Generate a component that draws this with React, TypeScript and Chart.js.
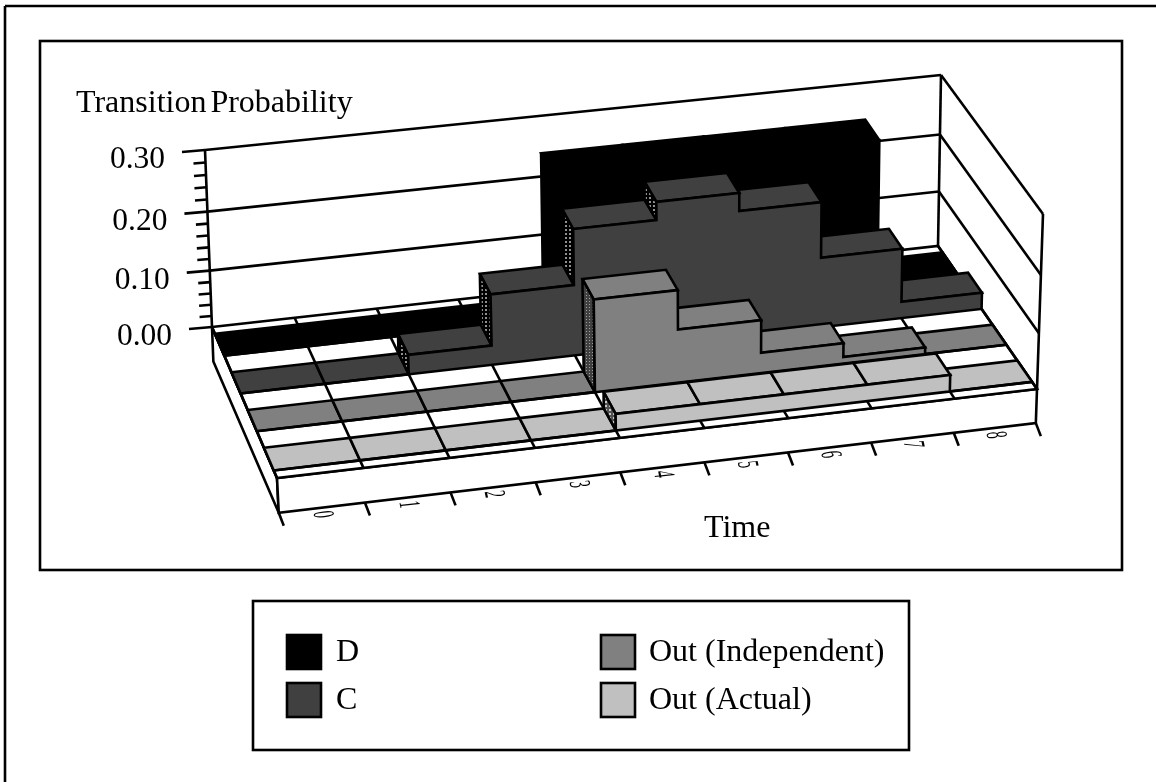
import React, { useEffect, useRef } from "react";
import { Chart, registerables } from "chart.js";

Chart.register(...registerables);

const categories = ["0", "1", "2", "3", "4", "5", "6", "7", "8"];
const seriesD = [0, 0, 0, 0, 0.25, 0.25, 0.25, 0.25, 0];
const seriesC = [0, 0, 0.035, 0.125, 0.22, 0.25, 0.22, 0.125, 0.03];
const outIndependent = [0, 0, 0, 0, 0.163, 0.095, 0.037, 0.012, 0];
const outActual = [0, 0, 0, 0, 0.03, 0.03, 0.03, 0.03, 0];
const seriesLabels = ["D", "C", "Out (Independent)", "Out (Actual)"];
const seriesColors = ["#000000", "#404040", "#808080", "#c0c0c0"];
const yTickLabels = ["0.00", "0.10", "0.20", "0.30"];
const yTickValues = [0, 0.1, 0.2, 0.3];
const yMinorValues = [0.02, 0.04, 0.06, 0.08, 0.12, 0.14, 0.16, 0.18, 0.22, 0.24, 0.26, 0.28];
const yAxisTitle = "Transition Probability";
const xAxisTitle = "Time";
const rowDepths = [
  [0.045, 0.19],
  [0.3, 0.44],
  [0.55, 0.69],
  [0.8, 0.95],
];
const slabThickness = -0.0585;

type P = [number, number];
const FONT = '"Liberation Serif", "Times New Roman", serif';

const floorC: P[] = [[212, 327], [938, 246], [1037, 389], [277, 478]]; // BL BR FR FL
const ceilC: P[] = [[205, 150], [941, 75], [1043, 214], [268, 300]];

function bilerp(c: P[], u: number, d: number): P {
  const bx = c[0][0] + (c[1][0] - c[0][0]) * u;
  const by = c[0][1] + (c[1][1] - c[0][1]) * u;
  const fx = c[3][0] + (c[2][0] - c[3][0]) * u;
  const fy = c[3][1] + (c[2][1] - c[3][1]) * u;
  return [bx + (fx - bx) * d, by + (fy - by) * d];
}

function makePattern(ctx: CanvasRenderingContext2D, base: string, dot: string, period: number) {
  const c = document.createElement("canvas");
  c.width = period;
  c.height = period;
  const g = c.getContext("2d")!;
  g.fillStyle = base;
  g.fillRect(0, 0, period, period);
  g.fillStyle = dot;
  g.fillRect(1, 1, period - 2, period - 2);
  return ctx.createPattern(c, "repeat")!;
}

const plugin3d = {
  id: "plugin3d",
  beforeDatasetsDraw(chart: any) {
    const ctx: CanvasRenderingContext2D = chart.ctx;
    const xs = chart.scales.x;
    const ys = chart.scales.y;
    const n = categories.length;

    const project = (t: number, d: number, v: number): P => {
      let u = (xs.getPixelForValue(t) - xs.left) / xs.width;
      u = u + 0.027 * u * (1 - u);
      let h = (ys.bottom - ys.getPixelForValue(v)) / ys.height;
      if (h > 0) h = h + 0.0675 * h * (h - 1);
      const f = bilerp(floorC, u, d);
      const c = bilerp(ceilC, u, d);
      return [f[0] + (c[0] - f[0]) * h, f[1] + (c[1] - f[1]) * h];
    };
    const poly = (pts: P[], fill?: any, close = true) => {
      ctx.beginPath();
      pts.forEach((p, i) => (i ? ctx.lineTo(p[0], p[1]) : ctx.moveTo(p[0], p[1])));
      if (close) ctx.closePath();
      if (fill) {
        ctx.fillStyle = fill;
        ctx.fill();
      }
      ctx.stroke();
    };
    const line = (a: P, b: P) => poly([a, b], undefined, false);

    ctx.save();
    ctx.fillStyle = "#fff";
    ctx.fillRect(0, 0, chart.width, chart.height);
    ctx.strokeStyle = "#000";
    ctx.lineWidth = 2.6;
    ctx.lineJoin = "miter";
    ctx.miterLimit = 3;
    ctx.lineCap = "butt";

    // page frame and panel frames
    line([5, 782], [5, 6]);
    line([5, 6], [1156, 6]);
    ctx.strokeRect(40, 41, 1082, 529);
    ctx.strokeRect(253, 601, 656, 149);

    // walls
    yTickValues.forEach((v) => {
      if (v > 0) line(project(0, 0, v), project(n, 0, v));
      if (v > 0) line(project(n, 0, v), project(n, 1, v));
    });
    line(project(0, 0, 0), project(0, 0, 0.3));
    line(project(n, 0, 0), project(n, 0, 0.3));
    line(project(n, 1, 0), project(n, 1, 0.3));

    // value ticks and labels
    ctx.fillStyle = "#000";
    ctx.font = `31.5px ${FONT}`;
    ctx.textAlign = "right";
    ctx.textBaseline = "alphabetic";
    yMinorValues.forEach((v) => {
      const p = project(0, 0, v);
      line(p, [p[0] - 12, p[1] + 1]);
    });
    yTickValues.forEach((v, i) => {
      const p = project(0, 0, v);
      const e: P = [p[0] - 23, p[1] + 2];
      line(p, e);
      ctx.fillStyle = "#000";
      ctx.fillText(yTickLabels[i], e[0] - 17, e[1] + 16);
    });

    // floor slab
    poly(
      [project(0, 0, 0), project(0, 1, 0), project(0, 1, slabThickness), project(0, 0, slabThickness)],
      "#fff"
    );
    poly(
      [project(0, 1, 0), project(n, 1, 0), project(n, 1, slabThickness), project(0, 1, slabThickness)],
      "#fff"
    );
    poly([project(0, 0, 0), project(n, 0, 0), project(n, 1, 0), project(0, 1, 0)], "#fff");
    for (let t = 0; t <= n; t++) {
      line(project(t, 0, 0), project(t, 1, 0));
      const b = project(t, 1, slabThickness);
      line(b, [b[0] + 5, b[1] + 13]);
    }

    // category labels (rotated and flattened, lying on the floor's front)
    categories.forEach((c, i) => {
      const b = project(i + 0.5, 1, slabThickness);
      ctx.save();
      ctx.transform(0.1, 0.45, -1, 0.11, b[0], b[1] + 7);
      ctx.font = `30px ${FONT}`;
      ctx.textAlign = "center";
      ctx.textBaseline = "middle";
      ctx.fillStyle = "#000";
      ctx.fillText(c, 0, 0);
      ctx.restore();
    });

    // rows, back to front
    const sidePatterns = [
      "#000000",
      makePattern(ctx, "#000000", "#909090", 4),
      makePattern(ctx, "#404040", "#a0a0a0", 3),
      makePattern(ctx, "#505050", "#c8c8c8", 4),
    ];
    chart.data.datasets.forEach((ds: any, r: number) => {
      const vals: number[] = ds.data;
      const [d0, d1] = rowDepths[r];
      const color = ds.backgroundColor;
      // tops, lower ones first so that taller blocks cover them
      vals
        .map((v, i) => ({ v, i }))
        .sort((a, b) => a.v - b.v)
        .forEach(({ v, i }) => {
          poly(
            [project(i, d0, v), project(i + 1, d0, v), project(i + 1, d1, v), project(i, d1, v)],
            color
          );
        });
      // exposed left sides where the series rises
      vals.forEach((v, i) => {
        const prev = i ? vals[i - 1] : 0;
        if (v > prev) {
          poly(
            [project(i, d0, prev), project(i, d0, v), project(i, d1, v), project(i, d1, prev)],
            sidePatterns[r]
          );
        }
      });
      // front silhouette
      const front: P[] = [project(0, d1, 0)];
      vals.forEach((v, i) => {
        front.push(project(i, d1, v));
        front.push(project(i + 1, d1, v));
      });
      front.push(project(n, d1, 0));
      poly(front, color);
    });

    // axis titles
    ctx.fillStyle = "#000";
    ctx.textAlign = "left";
    ctx.textBaseline = "alphabetic";
    ctx.font = `32px ${FONT}`;
    (ctx as any).wordSpacing = "-4px";
    ctx.fillText(yAxisTitle, 76, 112);
    (ctx as any).wordSpacing = "0px";
    ctx.fillText(xAxisTitle, 704, 537);

    // legend
    const swatchX = [287, 287, 601, 601];
    const swatchY = [635, 683, 635, 683];
    const textX = [336, 336, 649, 649];
    const textY = [661, 709, 661, 709];
    chart.data.datasets.forEach((ds: any, i: number) => {
      ctx.fillStyle = ds.backgroundColor;
      ctx.fillRect(swatchX[i], swatchY[i], 34, 34);
      ctx.strokeRect(swatchX[i], swatchY[i], 34, 34);
      ctx.fillStyle = "#000";
      ctx.font = `32px ${FONT}`;
      ctx.fillText(ds.label, textX[i], textY[i]);
    });
    ctx.restore();
    return false;
  },
};

export default function App() {
  const ref = useRef<HTMLCanvasElement>(null);
  useEffect(() => {
    const values = [seriesD, seriesC, outIndependent, outActual];
    const chart = new Chart(ref.current!, {
      type: "bar",
      data: {
        labels: categories,
        datasets: values.map((data, i) => ({
          label: seriesLabels[i],
          data,
          backgroundColor: seriesColors[i],
          xAxisID: "x",
          yAxisID: "y",
        })),
      },
      options: {
        responsive: false,
        animation: false,
        layout: { padding: 0 },
        plugins: { legend: { display: false }, title: { display: false }, tooltip: { enabled: false } },
        scales: {
          x: { type: "linear", display: false, offset: false, min: 0, max: categories.length },
          y: { type: "linear", display: false, min: 0, max: 0.3 },
        },
      },
      plugins: [plugin3d],
    } as any);
    return () => chart.destroy();
  }, []);
  return (
    <div style={{ position: "fixed", left: 0, top: 0, width: 1156, height: 782, background: "#fff" }}>
      <canvas ref={ref} width={1156} height={782} style={{ display: "block" }} />
    </div>
  );
}
